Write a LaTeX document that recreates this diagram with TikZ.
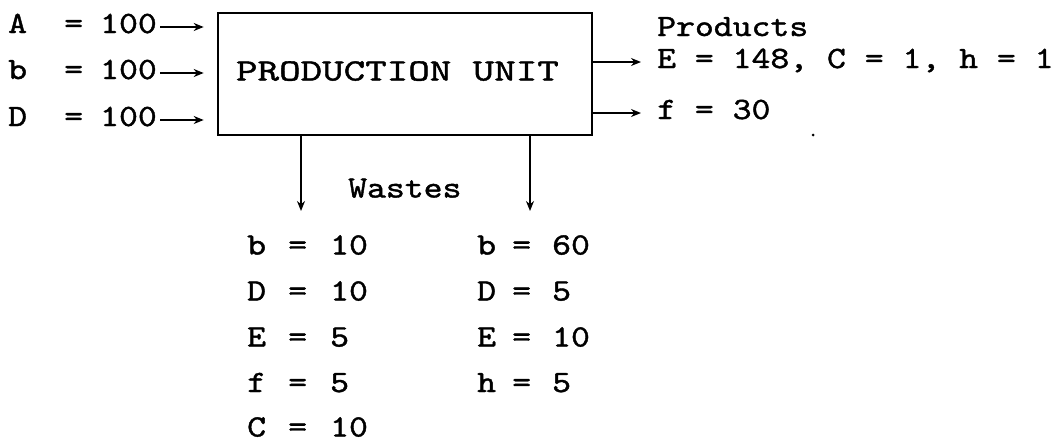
\documentclass[tikz,border=0pt]{standalone}
\usepackage{fontspec}
\usetikzlibrary{arrows.meta}
\newfontfamily\tw{lmmono10-regular.otf}[FakeStretch=1.16,FakeBold=1.3]
\begin{document}
\begin{tikzpicture}[x=1pt,y=-1pt,
  txt/.style={font=\tw\fontsize{31}{37}\selectfont, inner sep=0pt, text height=19pt, text depth=7pt, anchor=west},
  arr/.style={line width=2.6pt, -{Stealth[length=10pt,width=8pt]}},
  boxst/.style={draw, line width=2.6pt, minimum width=374pt, minimum height=122pt, inner sep=0pt}]
\useasboundingbox (0,0) rectangle (1060,442);
\fill[white] (0,0) rectangle (1060,442);
% box
\node[boxst] (pu) at (405,74) {};
\node[txt, anchor=center] (putext) at (397.5,74.5) {\scalebox{1.14}[1]{PRODUCTION UNIT}};
% inputs
\node[txt] (inA) at (8,27) {\makebox[56pt][l]{A}\makebox[36pt][l]{=}100};
\node[txt] (inb) at (8,73) {\makebox[56pt][l]{b}\makebox[36pt][l]{=}100};
\node[txt] (inD) at (8,120) {\makebox[56pt][l]{D}\makebox[36pt][l]{=}100};
\foreach \n in {inA,inb,inD}
  \draw[arr, shorten <=3pt, shorten >=13pt] (\n.east) -- (\n.east -| pu.west);
% outputs
\node[txt] (prod) at (657,30) {Products};
\node[txt] (ouE) at (657,62) {E = 148, C = 1, h = 1};
\node[txt] (ouf) at (657,113) {f = 30};
\foreach \n in {ouE,ouf}
  \draw[arr, shorten >=16pt] (\n.west -| pu.east) -- (\n.west);
\fill (813,135) circle (1.5pt);
% wastes
\coordinate (w1) at (301,211);
\coordinate (w2) at (530,211);
\draw[arr] (pu.south -| w1) -- (w1);
\draw[arr] (pu.south -| w2) -- (w2);
\node[txt] (wst) at (348,191.5) {Wastes};
\node[txt] (l1) at (247,248.5) {\makebox[41pt][l]{b}\makebox[42pt][l]{=}10};
\node[txt] (l2) at (247,294.5) {\makebox[41pt][l]{D}\makebox[42pt][l]{=}10};
\node[txt] (l3) at (247,340.5) {\makebox[41pt][l]{E}\makebox[42pt][l]{=}5};
\node[txt] (l4) at (247,386) {\makebox[41pt][l]{f}\makebox[42pt][l]{=}5};
\node[txt] (l5) at (247,430.5) {\makebox[41pt][l]{C}\makebox[42pt][l]{=}10};
\node[txt] (r1) at (477,248.5) {\makebox[35pt][l]{b}\makebox[40pt][l]{=}60};
\node[txt] (r2) at (477,294.5) {\makebox[35pt][l]{D}\makebox[40pt][l]{=}5};
\node[txt] (r3) at (477,340.5) {\makebox[35pt][l]{E}\makebox[40pt][l]{=}10};
\node[txt] (r4) at (477,386) {\makebox[35pt][l]{h}\makebox[40pt][l]{=}5};
\end{tikzpicture}
\end{document}
